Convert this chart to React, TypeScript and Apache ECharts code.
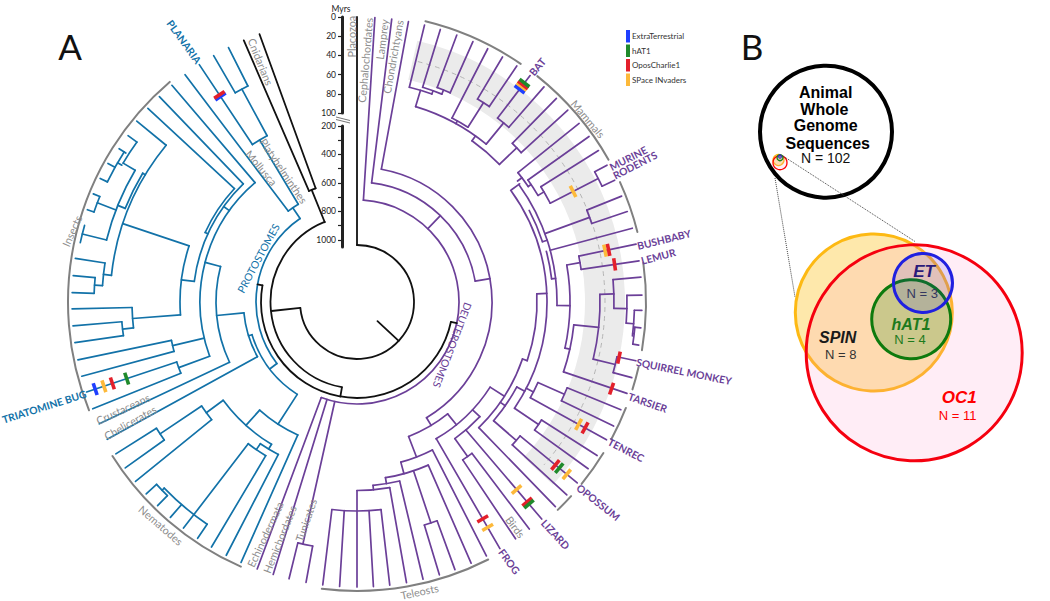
import React, { useEffect, useRef } from "react";
import * as echarts from "echarts";

// ---- time scale ----
const myrUpperTicks = [0, 20, 40, 60, 80, 100];
const myrLowerTicks = [200, 300, 400, 500, 600, 700, 800, 900, 1000];
const myrLowerLabels = [200, 400, 600, 800, 1000];

// ---- tree: radial branches are [angle, depth from, depth to], arcs are [depth, angle from, angle to] ----
const blackRadials = [[0,57,285],[133,28,57],[264,57,86],[338,86,121],[336.6,121,285],[340,121,285],[190,87,96],[102,96,102],[280,96,101]];
const blackArcs = [[57,0,264],[86.5,190,338],[121,336.6,340],[96,102,280]];

const purpleRadials = [
  [3.6,102,285],[7,120,285],[10.4,135,285],
  [13.7,221,285],[17,224.5,285],[20.5,229,285],[24,229,285],[27.3,207,285],[30.7,236,285],[34.1,236,285],[37.4,231.5,285],[41,231.5,285],[44.4,222,285],[47.7,222,285],
  [51.2,206.5,285],[54.5,210,285],[57.9,217,285],[61.3,271,285],[64.7,271,285],[68.2,247.5,285],[71.5,247.5,285],[75,200,285],[78.3,226.5,285],[81.7,226.5,285],
  [85,257,285],[88.6,270,285],[91.7,277.5,285],[95.2,278,285],[98.7,279,285],[101.9,265.7,285],[105.4,265.7,285],[108.7,218,285],[112.2,227,285],[115.8,227,285],
  [118.9,198,285],[122.6,219,285],[125.8,219,285],[129.4,211,285],[132.6,211,285],[135.9,175,285],[139.6,168,285],[142.8,190,285],[146.2,190,285],[149.9,158,285],
  [153,166,285],[156.4,178,285],[159.9,233,285],[163.2,233,285],[166.6,184,285],[170,188.5,285],[173.4,209,285],[176.7,209,285],[180,188.5,285],[183.5,209,285],[186.9,209,285],
  [190.3,248,285],[193.8,248,285],[197.1,102,285],[200.5,102,285],
  [19.8,221,224.5],[22.2,224.5,229],[16.7,204,221],[32.4,207,236],[39.3,204,231.5],[29,204,207],[46,198,222],[35.5,198,204],
  [54,191,201],[53,201,206.5],[56,206.5,210],[59.5,210,217],[62.9,217,271],[70,200,247.5],[72,195,200],[83.2,196,200],[80,213,226.5],
  [91,200,213],[102.5,213,218],[96,218,243],[88.2,243,257],[91.4,257,270],[94.5,270,277.5],[103.6,243,265.7],[96.5,277.5,279],
  [114,198,227],[117,190,198],[124,190,219],[131,181,211],[118,181,190],[87.4,180,190],[109,175,180],[122.6,158,175],[125,175,181],
  [133,158,168],[144.4,168,190],[141,144,158],[149,135,144],[159,144,166],[164.7,166,178],[161.5,178,233],[170.8,178,184],[175,184,188.5],
  [80,120,135],[44,102,120],[192.6,102,248],
];
const purpleArcs = [
  [102,3.6,200.5],[120,7,80],[135,10.4,149],
  [144,141,159],[158,122.6,150],[168,133,144.4],[190,142.8,146.2],[166,153,164.7],[178,156.4,170.8],[233,159.9,163.2],[184,166.6,175],[188.5,170,180],[209,173.4,186.9],[248,190.3,193.8],
  [175,109,135.9],[180,87.4,109],[181,118,131],[190,54,124],[211,129.4,132.6],[219,122.6,125.8],[198,114,118.9],[227,112.2,115.8],
  [200,54,91],[195,62,72],[196,75,83.2],[213,80,102.5],[226.5,78.3,81.7],[218,96,108.7],[243,88.2,103.6],[265.7,101.9,105.4],[257,85,91.4],[270,88.6,94.5],[277.5,91.7,97],[279,95.2,98.7],
  [247.5,68.2,71.5],[271,61.3,64.7],[217,57.9,62.9],[210,54.5,59.5],[206.5,51.2,56],
  [222,44.4,47.7],[198,35.5,46],[231.5,37.4,41],[204,16.7,39.3],[207,27.3,32.4],[236,30.7,34.1],[221,13.7,19.8],[224.5,17,22.2],[229,20.5,24],
];

const tealRadials = [
  [204,145.5,285],[207.3,171.5,285],[210.7,178.7,285],[214,268,285],[217.5,178.7,285],[220.9,268,285],[224.4,271,285],[227.7,271,285],[231,187,285],[234.4,237,285],[237.8,237,285],
  [241.2,113.6,285],[244.7,141,285],[248,190,285],[251.6,190,285],[254.9,189.5,285],[258.3,189.5,285],[261.8,236,285],[265.2,236,285],[268.6,225,285],[271.9,263,285],[275.3,263,285],[278.8,255,285],
  [283.9,258,283],[288.9,278,285],[292.3,278,285],[290.9,258,278],[295.7,277,285],[299.1,277,285],[302.8,275,283],[306,272,283],[309.4,247,285],[312.8,167,285],[316.1,164,285],[319.5,157,285],[322.9,114,285],[326.4,189,285],[329.8,242,285],[333.2,242,285],
  [300.7,258,272],[300.2,272,277],[292,250,258],[301,247,250],[288.5,177,247],[276.2,247,255],[273.7,255,263],[277.2,164,177],[265.8,177,225],[263.4,225,236],[305.6,157,164],[294.6,164,167],[284.6,141,157],[264.5,113.6,141],
  [256.7,157,189.5],[249.8,157,190],[252.7,110,113.6],[232.5,101,110],[212.9,110,145.5],[222,145.5,166],[211,166,171.5],[214.3,171.5,178.7],[233.7,166,187],[236.2,187,237],[226,268,271],[325.7,101,114],[329,114,189],[331.6,189,242],
];
const tealArcs = [
  [101,232.5,325.7],[110,212.9,252.7],[113.6,241.2,264.5],[141,244.7,284.6],[157,249.8,319.5],[164,277.2,316.1],[167,294.6,312.8],[177,265.8,288.5],[225,263.4,268.6],[236,261.8,265.2],[189.5,254.9,258.3],[190,248,251.6],
  [247,276.2,309.4],[255,273.7,278.8],[263,271.9,275.3],[250,292,301],[258,283.9,300.7],[272,300.7,306],[277,295.7,302.8],[278,288.9,292.3],[283,282.1,285.7],[114,322.9,329],[189,326.4,331.6],[242,329.8,333.2],
  [145.5,204,222],[166,211,233.7],[171.5,207.3,214.3],[178.7,210.7,217.5],[268,214,226],[271,224.4,227.7],[187,231,236.2],[237,234.4,237.8],
];

const groupArcs = [[289,13.7,34.5],[289,38.6,60.5],[289,65.5,76],[289,82.2,99.6],[289,103,107.6],[289,111.5,118.4],[289,121.5,129],[289,132.2,136],[289,153,187],[289,203.7,237.8],[289,248,319.6]];
const mammalBand = [[228,268,13,133]];
const mammalMidline = [[248,14.3,131]];

// ---- transposon marks: [angle, depth] ----
const extraTerrestrialMarks = [[37.4,267.9],[326.4,246.8],[251.6,276]];
const spaceInvadersMarks = [[37.4,271.2],[62.9,242.8],[78.3,253.4],[118.9,253.2],[129.4,271.5],[139.6,246.3],[149.9,260.6],[251.6,266.8]];
const oposCharlieMarks = [[37.4,273.3],[326.4,248.8],[78.3,257],[81.7,260.4],[102,267.9],[108.8,269],[118.9,260.6],[129.4,256.8],[139.6,262.6],[149.9,250.7],[251.6,257.9]];
const hat1Marks = [[37.4,275.8],[129.4,261.8],[139.6,265.4],[251.6,242.8]];

// ---- texts on the tree: [depth, angle, turn, text] ----
const grayLabels = [
  [258.8,338.2,68,"Cnidarians"],[265.4,358.9,-90,"Placozoa"],[242,1.9,-85,"Cephalochordates"],[263.9,5.4,-83,"Lamprey"],[247.9,8.3,-80,"Chondrichtyans"],
  [295,51.6,50,"Mammals"],[150.2,330.9,56,"Platyhelminthes"],[164.7,324.6,50,"Mollusca"],[294,284,-66,"Insects"],[257.4,245.5,-25,"Crustaceans"],[256.9,242.1,-29.5,"Chelicerates"],
  [296.9,221.3,41,"Nematodes"],[249.9,201.6,-65,"Echinodermata"],[249.7,198.1,-68,"Hemichordates"],[224,193.2,-71,"Tunicates"],[275,144.8,53,"Birds"],[296,167.8,-12,"Teleosts"],
];
const purpleSpecies = [
  [296.4,37.5,-50,"BAT"],[307,62.1,-27,"MURINE"],[309.9,63.8,-27,"RODENTS"],[313.3,78.5,-14,"BUSHBABY"],[304.7,81.4,-15,"LEMUR"],[334.3,102,11.5,"SQUIRREL MONKEY"],
  [307.6,109.1,19,"TARSIER"],[307,118.8,27.6,"TENREC"],[313.6,129.7,38.4,"OPOSSUM"],[305.7,139.5,47,"LIZARD"],[301,149.6,54,"FROG"],
];
const tealSpecies = [[329.8,251.5,-17.5,"TRIATOMINE BUG"],[312.4,326.4,54.4,"PLANARIA"]];
const cladeLabels = [[107.9,293.9,-61.6,"PROTOSTOMES","#1272a8"],[104.6,114.3,111,"DEUTEROSTOMES","#6b3f98"]];

// ---- panel B ----
const genomeLines = ["Animal", "Whole", "Genome", "Sequences"];

const PURPLE = "#6b3f98";
const TEAL = "#1272a8";
const GRAY = "#8d8d8d";
const TREE_FONT = "Lato";
const SANS = "Liberation Sans";

const toAngles = (api: any, r: number, a0: number, a1: number) => {
  const c = api.coord([0, 0]);
  const p0 = api.coord([r, a0]);
  const p1 = api.coord([r, a1]);
  return {
    cx: c[0],
    cy: c[1],
    radius: Math.hypot(p0[0] - c[0], p0[1] - c[1]),
    startAngle: Math.atan2(p0[1] - c[1], p0[0] - c[0]),
    endAngle: Math.atan2(p1[1] - c[1], p1[0] - c[0]),
  };
};

const polarBase = { type: "custom", coordinateSystem: "polar", silent: true };

const radialSeries = (rows: number[][], stroke: string, lineWidth = 1.7) => ({
  ...polarBase,
  data: rows,
  renderItem: (params: any, api: any) => {
    const [a, r0, r1] = rows[params.dataIndex];
    const p = api.coord([r0, a]);
    const q = api.coord([r1, a]);
    return {
      type: "line",
      shape: { x1: p[0], y1: p[1], x2: q[0], y2: q[1] },
      style: { stroke, lineWidth, lineCap: "round" },
    };
  },
});

const arcSeries = (rows: number[][], stroke: string, lineWidth = 1.7, lineDash?: number[]) => ({
  ...polarBase,
  data: rows,
  renderItem: (params: any, api: any) => {
    const [r, a0, a1] = rows[params.dataIndex];
    const g = toAngles(api, r, a0, a1);
    return {
      type: "arc",
      shape: { cx: g.cx, cy: g.cy, r: g.radius, startAngle: g.startAngle, endAngle: g.endAngle, clockwise: true },
      style: { stroke, lineWidth, fill: "none", lineCap: "round", lineDash },
    };
  },
});

const bandSeries = (rows: number[][], fill: string) => ({
  ...polarBase,
  data: rows,
  renderItem: (params: any, api: any) => {
    const [r0, r1, a0, a1] = rows[params.dataIndex];
    const g0 = toAngles(api, r0, a0, a1);
    const g1 = toAngles(api, r1, a0, a1);
    return {
      type: "sector",
      shape: { cx: g0.cx, cy: g0.cy, r0: g0.radius, r: g1.radius, startAngle: g0.startAngle, endAngle: g0.endAngle, clockwise: true },
      style: { fill },
    };
  },
});

const markSeries = (name: string, rows: number[][], color: string) => ({
  ...polarBase,
  name,
  data: rows,
  itemStyle: { color },
  renderItem: (params: any, api: any) => {
    const [a, r] = rows[params.dataIndex];
    const half = (6.2 / r) * (180 / Math.PI);
    const p = api.coord([r, a - half]);
    const q = api.coord([r, a + half]);
    return {
      type: "line",
      shape: { x1: p[0], y1: p[1], x2: q[0], y2: q[1] },
      style: { stroke: color, lineWidth: 3.6 },
    };
  },
});

const labelSeries = (rows: any[][], font: any) => ({
  ...polarBase,
  data: rows.map((row) => row.slice(0, 3)),
  renderItem: (params: any, api: any) => {
    const [r, a, turn, text, colour] = rows[params.dataIndex];
    const p = api.coord([r, a]);
    return {
      type: "text",
      x: p[0],
      y: p[1],
      rotation: (-turn * Math.PI) / 180,
      style: { text, align: "center", verticalAlign: "middle", fontFamily: TREE_FONT, ...font, fill: colour || font.fill },
    };
  },
});

const tickLabel = { color: "#222", fontSize: 8.5, fontFamily: TREE_FONT, margin: 6, formatter: (v: number) => String(v) };

const scaleAxis = (extra: any) => ({
  type: "value",
  inverse: true,
  position: "left",
  splitLine: { show: false },
  axisLine: { show: true, lineStyle: { color: "#222", width: 3 } },
  axisTick: { show: true, length: 4, lineStyle: { color: "#222", width: 1.2 } },
  axisLabel: tickLabel,
  ...extra,
});

const gText = (text: string, x: number, y: number, style: any) => ({
  type: "text",
  x,
  y,
  style: { text, align: "center", verticalAlign: "middle", fontFamily: SANS, ...style },
});

const gCircle = (cx: number, cy: number, r: number, stroke: string, lineWidth: number, fill: string) => ({
  type: "circle",
  shape: { cx, cy, r },
  style: { stroke, lineWidth, fill },
});

const buildOption = () => ({
  animation: false,
  backgroundColor: "#fff",
  polar: { center: [357, 302], radius: 400 },
  radiusAxis: { type: "value", min: 0, max: 400, show: false },
  angleAxis: { type: "value", min: 0, max: 360, startAngle: 90, show: false },
  grid: [
    { left: 342, width: 1, top: 17, height: 96 },
    { left: 342, width: 1, top: 126, height: 121 },
  ],
  xAxis: [
    { type: "value", gridIndex: 0, show: false },
    { type: "value", gridIndex: 1, show: false },
  ],
  yAxis: [
    scaleAxis({ gridIndex: 0, min: myrUpperTicks[0], max: myrUpperTicks[myrUpperTicks.length - 1], interval: 20 }),
    scaleAxis({
      gridIndex: 1,
      min: 200,
      max: 1050,
      axisTick: { show: true, length: 4, lineStyle: { color: "#222", width: 1.2 }, customValues: myrLowerTicks },
      axisLabel: { ...tickLabel, customValues: myrLowerLabels },
    }),
  ],
  legend: {
    left: 626,
    top: 30,
    padding: 0,
    orient: "vertical",
    icon: "rect",
    itemWidth: 4,
    itemHeight: 12.5,
    itemGap: 2,
    selectedMode: false,
    data: ["ExtraTerrestrial", "hAT1", "OposCharlie1", "SPace INvaders"],
    textStyle: { fontSize: 8, color: "#333", fontFamily: TREE_FONT, padding: [0, 0, 0, -3] },
  },
  series: [
    bandSeries(mammalBand, "#ebebeb"),
    arcSeries(mammalMidline, "#b5b5b5", 1, [4, 5]),
    arcSeries(groupArcs, "#808080", 2),
    radialSeries(purpleRadials, PURPLE),
    arcSeries(purpleArcs, PURPLE),
    radialSeries(tealRadials, TEAL),
    arcSeries(tealArcs, TEAL),
    radialSeries(blackRadials, "#111", 1.8),
    arcSeries(blackArcs, "#111", 1.8),
    markSeries("ExtraTerrestrial", extraTerrestrialMarks, "#1f3fff"),
    markSeries("SPace INvaders", spaceInvadersMarks, "#fdb93a"),
    markSeries("OposCharlie1", oposCharlieMarks, "#e3202b"),
    markSeries("hAT1", hat1Marks, "#1f8a2b"),
    labelSeries(grayLabels, { fontSize: 10.8, fill: GRAY }),
    labelSeries(purpleSpecies, { fontSize: 10.3, fontWeight: "bold", fill: PURPLE }),
    labelSeries(tealSpecies, { fontSize: 10.3, fontWeight: "bold", fill: TEAL }),
    labelSeries(cladeLabels, { fontSize: 10.5 }),
  ],
  graphic: [
    gText("A", 70, 46, { fontFamily: TREE_FONT, fontSize: 35, fill: "#111" }),
    gText("B", 752, 46, { fontFamily: TREE_FONT, fontSize: 35, fill: "#111" }),
    gText("Myrs", 341, 8.5, { fontFamily: TREE_FONT, fontSize: 8.5, fill: "#222" }),
    { type: "line", shape: { x1: 336, y1: 117, x2: 350, y2: 120.5 }, style: { stroke: "#777", lineWidth: 1 } },
    { type: "line", shape: { x1: 336, y1: 119.5, x2: 350, y2: 123 }, style: { stroke: "#777", lineWidth: 1 } },
    gCircle(826, 131.7, 66, "#000", 4, "#fff"),
    gCircle(778.5, 160, 5.5, "#fdb913", 1.3, "rgba(253,185,0,0.3)"),
    gCircle(780, 162.7, 7, "#f00", 1.3, "rgba(255,150,200,0.15)"),
    gCircle(780, 157.7, 3, "#1a7f1a", 1.3, "rgba(0,128,0,0.2)"),
    gCircle(780, 156.5, 1.7, "#2a2ae0", 1, "rgba(30,30,255,0.4)"),
    ...genomeLines.map((line, i) =>
      gText(line, [825.7, 824.3, 825.7, 827.7][i], [92.3, 109, 125.7, 143][i], { fontSize: 16, fontWeight: "bold", fill: "#000" })
    ),
    gText("N = 102", 825.7, 157.7, { fontSize: 14, fill: "#111" }),
    { type: "line", shape: { x1: 775, y1: 178, x2: 795, y2: 297 }, style: { stroke: "#444", lineWidth: 1, lineDash: [1, 1] } },
    { type: "line", shape: { x1: 783, y1: 156, x2: 915, y2: 241.5 }, style: { stroke: "#444", lineWidth: 1, lineDash: [1, 1] } },
    gCircle(873.8, 312.5, 78.5, "#fdb913", 3, "rgba(253,185,0,0.33)"),
    gCircle(914.2, 352.8, 108, "#f5000f", 3, "rgba(255,150,200,0.17)"),
    gCircle(911.2, 319.3, 39.5, "#0d7a0d", 3, "rgba(0,128,0,0.2)"),
    gCircle(923, 283, 29.5, "#2020e0", 3, "rgba(30,30,255,0.13)"),
    gText("ET", 924, 271.7, { fontSize: 17, fontWeight: "bold", fontStyle: "italic", fill: "#2a1a7a" }),
    gText("N = 3", 922.3, 293.3, { fontSize: 13, fill: "#333660" }),
    gText("hAT1", 911, 324.3, { fontSize: 16, fontWeight: "bold", fontStyle: "italic", fill: "#1d7a1d" }),
    gText("N = 4", 910, 339.3, { fontSize: 13, fill: "#1d7a1d" }),
    gText("SPIN", 837.7, 337.3, { fontSize: 16, fontWeight: "bold", fontStyle: "italic", fill: "#1a1a1a" }),
    gText("N = 8", 840.7, 354.3, { fontSize: 13, fill: "#333" }),
    gText("OC1", 959.3, 397.7, { fontSize: 17, fontWeight: "bold", fontStyle: "italic", fill: "#f00" }),
    gText("N = 11", 957.7, 415.3, { fontSize: 13, fill: "#f00" }),
  ],
});

export default function App() {
  const ref = useRef<HTMLDivElement>(null);
  useEffect(() => {
    const chart = echarts.init(ref.current, undefined, { renderer: "svg" });
    chart.setOption(buildOption() as any);
    return () => chart.dispose();
  }, []);
  return <div ref={ref} style={{ position: "fixed", left: 0, top: 0, width: 1050, height: 601 }} />;
}
